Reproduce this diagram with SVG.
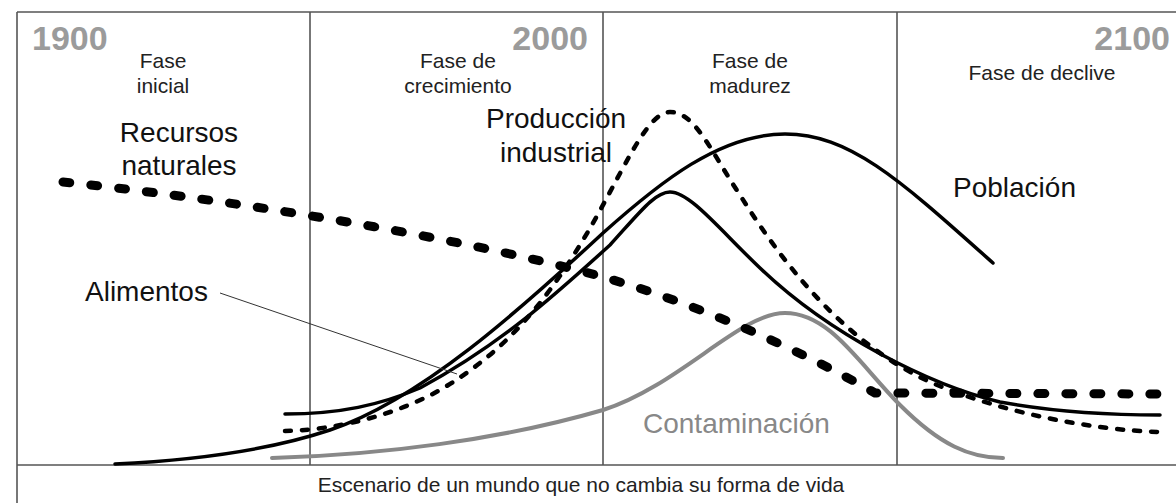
<svg xmlns="http://www.w3.org/2000/svg" width="1176" height="503" viewBox="0 0 1176 503">
  <style>
    .frame { stroke: #555; stroke-width: 1.6; fill: none; }
    .year { font-family: "Liberation Sans", Arial, sans-serif; font-weight: bold; font-size: 34px; fill: #9b9b9b; }
    .phase { font-family: "Liberation Sans", Arial, sans-serif; font-size: 21px; fill: #222; text-anchor: middle; }
    .big { font-family: "Liberation Sans", Arial, sans-serif; font-size: 28px; fill: #111; }
    .curve { fill: none; stroke: #000; stroke-linecap: round; stroke-linejoin: round; }
  </style>
  <rect width="1176" height="503" fill="#fff"/>
  <g id="frame" class="frame">
    <line x1="17" y1="12" x2="1176" y2="12"/>
    <line x1="17" y1="12" x2="17" y2="503"/>
    <line x1="17" y1="465" x2="1176" y2="465"/>
    <line x1="310" y1="12" x2="310" y2="465"/>
    <line x1="603" y1="12" x2="603" y2="465"/>
    <line x1="897" y1="12" x2="897" y2="465"/>
  </g>
  <g id="years">
    <text class="year" x="32" y="50">1900</text>
    <text class="year" x="588" y="50" text-anchor="end">2000</text>
    <text class="year" x="1170" y="50" text-anchor="end">2100</text>
  </g>
  <g id="phases">
    <text class="phase" x="163" y="68">Fase</text>
    <text class="phase" x="163" y="93">inicial</text>
    <text class="phase" x="458" y="68">Fase de</text>
    <text class="phase" x="458" y="93">crecimiento</text>
    <text class="phase" x="750" y="68">Fase de</text>
    <text class="phase" x="750" y="93">madurez</text>
    <text class="phase" x="1042" y="80">Fase de declive</text>
  </g>
  <g id="curves">
    <path id="contaminacion" class="curve" style="stroke:#888;stroke-width:4" d="M272,458 C380,455 500,440 603,410 C680,385 740,313 785,313 C830,313 860,365 900,405 C940,445 970,458 1003,458"/>
    <path id="recursos" class="curve" style="stroke-width:9;stroke-dasharray:7 21" d="M63,182 C200,196 440,232 603,277 C700,305 800,350 875,393 L1160,394"/>
    <path id="produccion" class="curve" style="stroke-width:4.5;stroke-dasharray:6 11" d="M285,431 C330,430 390,418 440,390 C500,355 540,310 580,245 C620,180 645,112 670,112 C695,112 710,150 740,195 C790,275 850,345 930,382 C1000,412 1090,430 1160,432"/>
    <path id="alimentos" class="curve" style="stroke-width:3.5" d="M285,414 C340,414 380,405 420,388 C500,345 555,295 610,245 C640,212 655,192 670,192 C690,192 720,230 760,268 C830,335 930,385 1000,402 C1060,413 1120,415 1160,415"/>
    <path id="poblacion" class="curve" style="stroke-width:3.5" d="M115,464 C200,460 270,450 330,430 C420,400 520,310 603,233 C660,182 720,134 785,134 C850,134 900,180 993,263"/>
    <line id="leader" x1="220" y1="293" x2="457" y2="374" stroke="#333" stroke-width="1"/>
  </g>
  <g id="labels">
    <text class="big" x="179" y="142" text-anchor="middle">Recursos</text>
    <text class="big" x="179" y="175" text-anchor="middle">naturales</text>
    <text class="big" x="556" y="128" text-anchor="middle">Producción</text>
    <text class="big" x="556" y="162" text-anchor="middle">industrial</text>
    <text class="big" x="953" y="197">Población</text>
    <text class="big" x="85" y="301">Alimentos</text>
    <text class="big" x="643" y="433" style="fill:#888">Contaminación</text>
    <text class="phase" x="581" y="492">Escenario de un mundo que no cambia su forma de vida</text>
  </g>
</svg>
